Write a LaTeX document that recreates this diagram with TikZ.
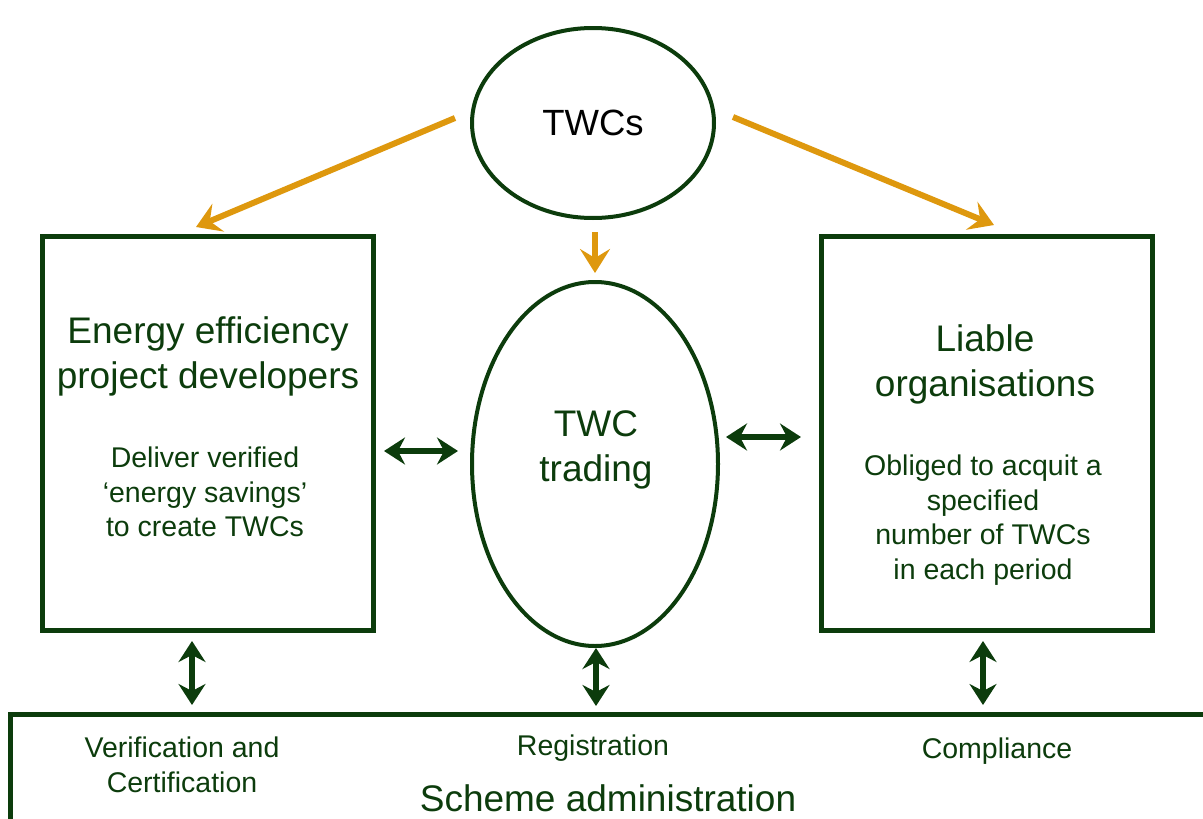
\documentclass[tikz,border=0pt]{standalone}
\usepackage{fontspec}
\setmainfont{Liberation Sans}
\usepackage{tikz}
\usetikzlibrary{shapes,arrows.meta}
\definecolor{dkgreen}{RGB}{12,60,12}
\definecolor{gold}{RGB}{222,152,14}
\begin{document}
\begin{tikzpicture}[x=1pt,y=-1pt]

% Define box, ellipse and arrow styles
\tikzstyle{actor} =[draw=dkgreen, line width=5pt, minimum width=331pt,
                    minimum height=394pt, inner sep=0pt]
\tikzstyle{blob} =[ellipse, draw=dkgreen, line width=4pt, inner sep=0pt]
\tikzstyle{flow} =[draw=gold, line width=6pt, -{Stealth[length=24pt,width=30pt,inset=9pt]}]
\tikzstyle{link} =[draw=dkgreen, line width=6pt,
                   {Stealth[length=21pt,width=27pt,inset=7pt]}-{Stealth[length=21pt,width=27pt,inset=7pt]}]
\tikzstyle{big} =[text=dkgreen, font=\fontsize{37}{45}\selectfont, align=center]
\tikzstyle{small} =[text=dkgreen, font=\fontsize{28.5}{34.5}\selectfont, align=center]

\useasboundingbox (0,0) rectangle (1203,819);

\node[blob, minimum width=242pt, minimum height=190pt] (twcs) at (593,123)
  {\fontsize{36.5}{40}\selectfont TWCs};
\node[blob, minimum width=246pt, minimum height=364pt] (trade) at (595,464) {};
\node[big] (tradetxt) at (596,450) {TWC\\trading};

\node[actor] (dev) at (207.5,433) {};
\node[actor] (liab) at (987,433) {};
\node[big] (devtxt) at (208,356) {Energy efficiency\\project developers};
\node[small] (devsub) at (205,492) {Deliver verified\\‘energy savings’\\to create TWCs};
\node[big] (liabtxt) at (985,364) {Liable\\organisations};
\node[small] (liabsub) at (983,520) {Obliged to acquit a\\specified\\number of TWCs\\in each period};

% scheme administration box runs off the page
\draw[dkgreen, line width=5pt] (10,830) -- (10,714) -- (1215,714);
\node[small] (verif) at (182,765) {Verification and\\Certification};
\node[small] (reg) at (593,748) {Registration};
\node[small] (comp) at (997,751) {Compliance};
\node[big] (scheme) at (608,798) {Scheme administration};

% flows of TWCs
\coordinate (a1) at (455,118);
\coordinate (a2) at (196,227);
\coordinate (b1) at (595,232);
\coordinate (b2) at (595,273);
\coordinate (c1) at (733,117);
\coordinate (c2) at (994,225);
\draw[flow] (a1) -- (a2);
\draw[flow] (b1) -- (b2);
\draw[flow] (c1) -- (c2);

% two way links
\coordinate (l1) at (384,451);
\coordinate (l2) at (458,451);
\coordinate (r1) at (726,437);
\coordinate (r2) at (801,437);
\draw[link] (l1) -- (l2);
\draw[link] (r1) -- (r2);
\foreach \x/\t/\b in {192/641/705, 596/648/706, 983/641/705}{
  \draw[link] (\x,\t) -- (\x,\b);
}

\end{tikzpicture}
\end{document}
